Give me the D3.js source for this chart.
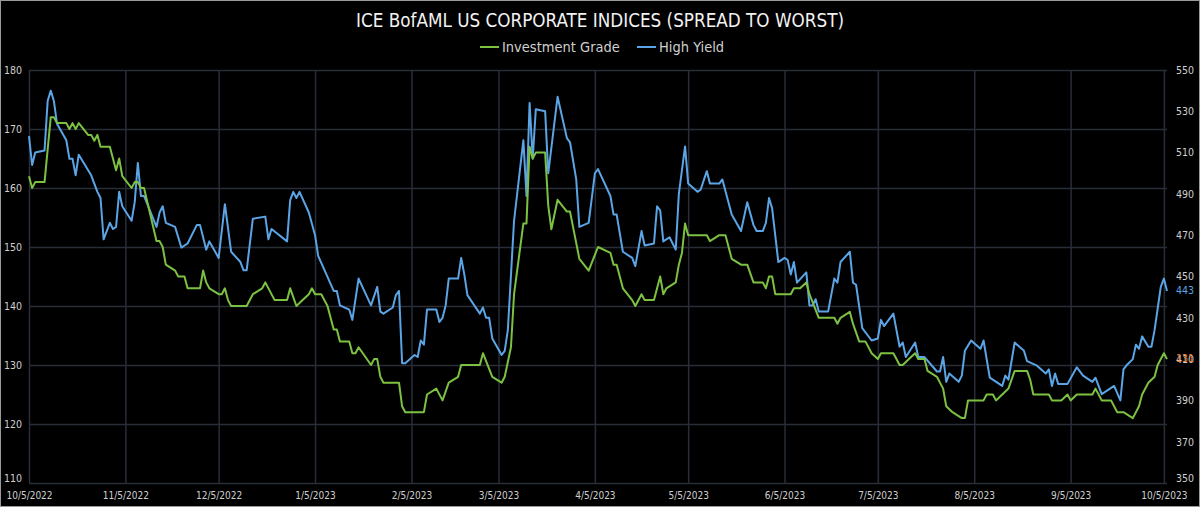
<!DOCTYPE html>
<html>
<head>
<meta charset="utf-8">
<script src="https://cdn.jsdelivr.net/npm/d3@7"></script>
<style>
  body { margin: 0; background: #000; }
  text { font-family: 'Liberation Sans Narrow', 'DejaVu Sans Condensed', Roboto, sans-serif; }
</style>
</head>
<body>
<div id="chart"></div>
<script>
var chartTitle = 'ICE BofAML US CORPORATE INDICES (SPREAD TO WORST)';
var seriesNames = ['Investment Grade', 'High Yield'];

// investment grade spread (left axis)
var igPoints = [
  ['2022-10-05',162],['2022-10-06',160],['2022-10-07',161],['2022-10-10',161],['2022-10-12',172],
  ['2022-10-13',172],['2022-10-14',171],['2022-10-17',171],['2022-10-18',170],['2022-10-19',171],
  ['2022-10-20',170],['2022-10-21',171],['2022-10-24',169],['2022-10-25',169],['2022-10-26',168],
  ['2022-10-27',169],['2022-10-28',167],['2022-10-31',167],['2022-11-02',163],['2022-11-03',165],
  ['2022-11-04',162],['2022-11-07',160],['2022-11-08',161],['2022-11-09',161],['2022-11-10',160],
  ['2022-11-11',160],['2022-11-15',151],['2022-11-16',151],['2022-11-17',150],['2022-11-18',147],
  ['2022-11-21',146],['2022-11-22',145],['2022-11-24',145],['2022-11-25',143],['2022-11-29',143],
  ['2022-11-30',146],['2022-12-01',144],['2022-12-02',143],['2022-12-05',142],['2022-12-06',142],
  ['2022-12-07',143],['2022-12-08',141],['2022-12-09',140],['2022-12-14',140],['2022-12-16',142],
  ['2022-12-19',143],['2022-12-20',144],['2022-12-23',141],['2022-12-27',141],['2022-12-28',143],
  ['2022-12-30',140],['2023-01-01',141],['2023-01-03',142],['2023-01-04',143],['2023-01-05',142],
  ['2023-01-07',142],['2023-01-09',140],['2023-01-11',136],['2023-01-12',136],['2023-01-13',134],
  ['2023-01-16',134],['2023-01-17',132],['2023-01-18',132],['2023-01-19',133],['2023-01-23',130],
  ['2023-01-24',131],['2023-01-25',131],['2023-01-26',128],['2023-01-27',127],['2023-02-01',127],
  ['2023-02-02',123],['2023-02-03',122],['2023-02-09',122],['2023-02-10',125],['2023-02-13',126],
  ['2023-02-15',124],['2023-02-17',127],['2023-02-20',128],['2023-02-21',130],['2023-02-27',130],
  ['2023-02-28',132],['2023-03-03',128],['2023-03-06',127],['2023-03-07',128],['2023-03-09',133],
  ['2023-03-10',142],['2023-03-13',154],['2023-03-14',154],['2023-03-15',167],['2023-03-16',165],
  ['2023-03-17',166],['2023-03-20',166],['2023-03-21',157],['2023-03-22',153],['2023-03-24',158],
  ['2023-03-27',156],['2023-03-28',156],['2023-03-31',148],['2023-04-03',146],['2023-04-06',150],
  ['2023-04-10',149],['2023-04-11',147],['2023-04-12',147],['2023-04-14',143],['2023-04-17',141],
  ['2023-04-18',140],['2023-04-20',142],['2023-04-21',141],['2023-04-24',141],['2023-04-26',145],
  ['2023-04-27',142],['2023-04-28',143],['2023-05-01',144],['2023-05-02',147],['2023-05-03',149],
  ['2023-05-04',154],['2023-05-05',152],['2023-05-11',152],['2023-05-12',151],['2023-05-15',152],
  ['2023-05-17',152],['2023-05-19',148],['2023-05-22',147],['2023-05-24',147],['2023-05-26',144],
  ['2023-05-29',144],['2023-05-30',143],['2023-05-31',145],['2023-06-01',145],['2023-06-02',142],
  ['2023-06-07',142],['2023-06-08',143],['2023-06-10',143],['2023-06-12',144],['2023-06-13',142],
  ['2023-06-16',138],['2023-06-21',138],['2023-06-22',137],['2023-06-23',138],['2023-06-26',139],
  ['2023-06-27',137],['2023-06-29',134],['2023-07-01',134],['2023-07-03',132],['2023-07-05',131],
  ['2023-07-06',132],['2023-07-10',132],['2023-07-12',130],['2023-07-13',130],['2023-07-15',131],
  ['2023-07-17',132],['2023-07-18',131],['2023-07-20',131],['2023-07-21',129],['2023-07-24',128],
  ['2023-07-26',126],['2023-07-27',123],['2023-07-29',122],['2023-08-01',121],['2023-08-02',121],
  ['2023-08-03',124],['2023-08-08',124],['2023-08-09',125],['2023-08-11',125],['2023-08-12',124],
  ['2023-08-14',125],['2023-08-16',126],['2023-08-18',129],['2023-08-22',129],['2023-08-23',127.5],
  ['2023-08-24',125],['2023-08-29',125],['2023-08-30',124],['2023-09-02',124],['2023-09-04',125],
  ['2023-09-05',124],['2023-09-07',125],['2023-09-12',125],['2023-09-13',126],['2023-09-15',124],
  ['2023-09-18',124],['2023-09-20',122],['2023-09-22',122],['2023-09-25',121],['2023-09-27',123],
  ['2023-09-28',125],['2023-09-30',127],['2023-10-02',128],['2023-10-03',130],['2023-10-05',132],
  ['2023-10-06',131]
];

// high yield spread (right axis)
var hyPoints = [
  ['2022-10-05',518],['2022-10-06',504],['2022-10-07',510],['2022-10-10',511],['2022-10-11',535],
  ['2022-10-12',540],['2022-10-13',535],['2022-10-14',524],['2022-10-17',516],['2022-10-18',507],
  ['2022-10-19',507],['2022-10-20',499],['2022-10-21',509],['2022-10-25',499],['2022-10-27',491],
  ['2022-10-28',488],['2022-10-29',468],['2022-10-31',476],['2022-11-01',473],['2022-11-02',474],
  ['2022-11-03',491],['2022-11-04',484],['2022-11-07',477],['2022-11-08',486],['2022-11-09',505],
  ['2022-11-10',489],['2022-11-11',489],['2022-11-15',474],['2022-11-16',481],['2022-11-17',484],
  ['2022-11-18',476],['2022-11-21',474],['2022-11-23',464],['2022-11-25',466],['2022-11-28',475],
  ['2022-11-29',475],['2022-12-01',463],['2022-12-02',467],['2022-12-05',459],['2022-12-07',485],
  ['2022-12-09',462],['2022-12-12',457],['2022-12-13',453],['2022-12-14',453],['2022-12-16',478],
  ['2022-12-20',479],['2022-12-21',468],['2022-12-22',473],['2022-12-27',467],['2022-12-28',487],
  ['2022-12-29',491],['2022-12-30',488],['2022-12-31',491],['2023-01-03',481],['2023-01-05',470],
  ['2023-01-06',460],['2023-01-11',443],['2023-01-12',443],['2023-01-13',436],['2023-01-16',434],
  ['2023-01-17',429],['2023-01-19',449],['2023-01-23',436],['2023-01-25',445],['2023-01-26',433],
  ['2023-01-27',432],['2023-01-30',435],['2023-01-31',441],['2023-02-01',443],['2023-02-02',408],
  ['2023-02-03',408],['2023-02-06',412],['2023-02-07',411],['2023-02-08',419],['2023-02-09',417],
  ['2023-02-10',434],['2023-02-13',434],['2023-02-14',428],['2023-02-15',430],['2023-02-16',436],
  ['2023-02-17',449],['2023-02-20',449],['2023-02-21',459],['2023-02-22',451],['2023-02-23',441],
  ['2023-02-27',432],['2023-02-28',435],['2023-03-01',430],['2023-03-02',430],['2023-03-03',420],
  ['2023-03-06',412],['2023-03-07',414],['2023-03-08',424],['2023-03-10',477],['2023-03-13',516],
  ['2023-03-14',489],['2023-03-15',534],['2023-03-16',507],['2023-03-17',531],['2023-03-20',530],
  ['2023-03-21',500],['2023-03-24',537],['2023-03-27',517],['2023-03-28',515],['2023-03-30',497],
  ['2023-03-31',474],['2023-04-03',476],['2023-04-05',500],['2023-04-06',502],['2023-04-10',489],
  ['2023-04-11',480],['2023-04-12',480],['2023-04-14',462],['2023-04-17',459],['2023-04-18',455],
  ['2023-04-20',472],['2023-04-21',465],['2023-04-24',466],['2023-04-25',484],['2023-04-26',482],
  ['2023-04-27',467],['2023-04-29',469],['2023-05-01',463],['2023-05-02',490],['2023-05-04',513],
  ['2023-05-05',495],['2023-05-08',491],['2023-05-09',492],['2023-05-11',501],['2023-05-12',495],
  ['2023-05-15',495],['2023-05-16',497],['2023-05-19',480],['2023-05-22',472],['2023-05-24',486],
  ['2023-05-26',475],['2023-05-27',472],['2023-05-29',472],['2023-05-30',476],['2023-05-31',488],
  ['2023-06-01',483],['2023-06-03',457],['2023-06-05',459],['2023-06-06',458],['2023-06-07',451],
  ['2023-06-08',457],['2023-06-09',447],['2023-06-12',452],['2023-06-13',436],['2023-06-14',436],
  ['2023-06-15',439],['2023-06-16',433],['2023-06-19',433],['2023-06-21',449],['2023-06-22',447],
  ['2023-06-23',457],['2023-06-26',462],['2023-06-27',447],['2023-06-28',446],['2023-06-30',425],
  ['2023-07-03',419],['2023-07-05',420],['2023-07-06',429],['2023-07-07',426],['2023-07-10',432],
  ['2023-07-12',416],['2023-07-13',418],['2023-07-14',411],['2023-07-17',418],['2023-07-18',411],
  ['2023-07-20',411],['2023-07-24',404],['2023-07-25',404],['2023-07-26',411],['2023-07-27',399],
  ['2023-07-28',403],['2023-07-31',399],['2023-08-01',402],['2023-08-02',414],['2023-08-04',419],
  ['2023-08-07',415],['2023-08-08',419],['2023-08-10',401],['2023-08-14',397],['2023-08-15',402],
  ['2023-08-16',400],['2023-08-18',418],['2023-08-21',414],['2023-08-22',409],['2023-08-25',407],
  ['2023-08-28',403],['2023-08-29',405],['2023-08-30',397],['2023-08-31',403],['2023-09-01',398],
  ['2023-09-04',398],['2023-09-07',406],['2023-09-09',402],['2023-09-12',399],['2023-09-13',401],
  ['2023-09-15',393],['2023-09-19',397],['2023-09-21',390],['2023-09-22',405],['2023-09-23',407],
  ['2023-09-25',410],['2023-09-26',417],['2023-09-27',415],['2023-09-28',421],['2023-09-30',416],
  ['2023-10-01',416],['2023-10-02',424],['2023-10-04',445],['2023-10-05',449],['2023-10-06',443]
];

var leftTicks = [110, 120, 130, 140, 150, 160, 170, 180];
var rightTicks = [350, 370, 390, 410, 430, 450, 470, 490, 510, 530, 550];
var dateTicks = ['2022-10-05','2022-11-05','2022-12-05','2023-01-05','2023-02-05','2023-03-05',
                 '2023-04-05','2023-05-05','2023-06-05','2023-07-05','2023-08-05','2023-09-05','2023-10-05'];

var width = 1200, height = 507;
var margin = {top: 70, right: 33, bottom: 24, left: 29};
var colors = {ig: '#7cc142', hy: '#5ba4e5', last: '#ee7d2c', grid: '#282d38', text: '#cfcfcf'};

var parse = d3.timeParse('%Y-%m-%d');
var fmt = d3.timeFormat('%-m/%-d/%Y');

var svg = d3.select('#chart').append('svg')
  .attr('width', width)
  .attr('height', height);

svg.append('rect')
  .attr('x', 0.5).attr('y', 0.5)
  .attr('width', width - 1).attr('height', height - 1)
  .attr('fill', '#000')
  .attr('stroke', '#9a9a9a');

var x = d3.scaleTime()
  .domain([parse('2022-10-05'), parse('2023-10-06')])
  .range([margin.left, width - margin.right]);
var yL = d3.scaleLinear().domain([110, 180]).range([height - margin.bottom, margin.top]);
var yR = d3.scaleLinear().domain([350, 550]).range([height - margin.bottom, margin.top]);

// grid + axes
var gx = svg.append('g')
  .attr('transform', 'translate(0,' + (height - margin.bottom) + ')')
  .call(d3.axisBottom(x)
    .tickValues(dateTicks.map(parse))
    .tickSize(-(height - margin.bottom - margin.top))
    .tickFormat(fmt));
gx.select('.domain').remove();
gx.selectAll('line').attr('stroke', colors.grid).attr('stroke-width', 1.5);
gx.selectAll('text').attr('fill', colors.text).attr('font-size', 10).attr('y', 9).attr('dy', '0.71em');

var gl = svg.append('g')
  .attr('transform', 'translate(' + margin.left + ',0)')
  .call(d3.axisLeft(yL)
    .tickValues(leftTicks)
    .tickSize(-(width - margin.left - margin.right))
    .tickFormat(d3.format('d')));
gl.select('.domain').remove();
gl.selectAll('line').attr('stroke', colors.grid).attr('stroke-width', 1.5);
gl.selectAll('text').attr('fill', colors.text).attr('font-size', 10.5).attr('x', -7);

var gr = svg.append('g')
  .attr('transform', 'translate(' + (width - margin.right) + ',0)')
  .call(d3.axisRight(yR)
    .tickValues(rightTicks)
    .tickSize(0)
    .tickFormat(d3.format('d')));
gr.select('.domain').remove();
gr.selectAll('text').attr('fill', colors.text).attr('font-size', 10.5).attr('x', 9);

// lowest labels sit just above the bottom gridline
gl.selectAll('.tick').filter(function(d){ return d === leftTicks[0]; }).select('text').attr('y', -5);
gr.selectAll('.tick').filter(function(d){ return d === rightTicks[0]; }).select('text').attr('y', -5);

// lines
var lineIG = d3.line()
  .x(function(d){ return x(parse(d[0])); })
  .y(function(d){ return yL(d[1]); });
var lineHY = d3.line()
  .x(function(d){ return x(parse(d[0])); })
  .y(function(d){ return yR(d[1]); });

svg.append('path').datum(hyPoints)
  .attr('d', lineHY)
  .attr('fill', 'none')
  .attr('stroke', colors.hy)
  .attr('stroke-width', 2)
  .attr('stroke-linejoin', 'round');

svg.append('path').datum(igPoints)
  .attr('d', lineIG)
  .attr('fill', 'none')
  .attr('stroke', colors.ig)
  .attr('stroke-width', 2)
  .attr('stroke-linejoin', 'round');

// last value labels
var lastHY = hyPoints[hyPoints.length - 1], lastIG = igPoints[igPoints.length - 1];
svg.append('text')
  .attr('x', width - margin.right + 9).attr('y', yR(lastHY[1]))
  .attr('dy', '0.32em')
  .attr('fill', colors.hy).attr('font-size', 10.5)
  .text(lastHY[1]);
svg.append('text')
  .attr('x', width - margin.right + 9).attr('y', yL(lastIG[1]))
  .attr('dy', '0.32em')
  .attr('fill', colors.last).attr('font-size', 10.5)
  .text(lastIG[1]);

// title + legend
svg.append('text')
  .attr('x', width / 2).attr('y', 27)
  .attr('text-anchor', 'middle')
  .attr('fill', '#f2f2f2')
  .attr('font-size', 20)
  .attr('textLength', 488)
  .attr('lengthAdjust', 'spacingAndGlyphs')
  .text(chartTitle);

var legend = svg.append('g').attr('transform', 'translate(480,47)');
var legendItems = [
  {name: seriesNames[0], color: colors.ig, x: 0},
  {name: seriesNames[1], color: colors.hy, x: 157}
];
legendItems.forEach(function(it){
  legend.append('line')
    .attr('x1', it.x).attr('x2', it.x + 19)
    .attr('y1', 0).attr('y2', 0)
    .attr('stroke', it.color).attr('stroke-width', 2);
  legend.append('text')
    .attr('x', it.x + 22).attr('y', 0).attr('dy', '0.35em')
    .attr('fill', colors.text).attr('font-size', 14.5)
    .text(it.name);
});
</script>
</body>
</html>
